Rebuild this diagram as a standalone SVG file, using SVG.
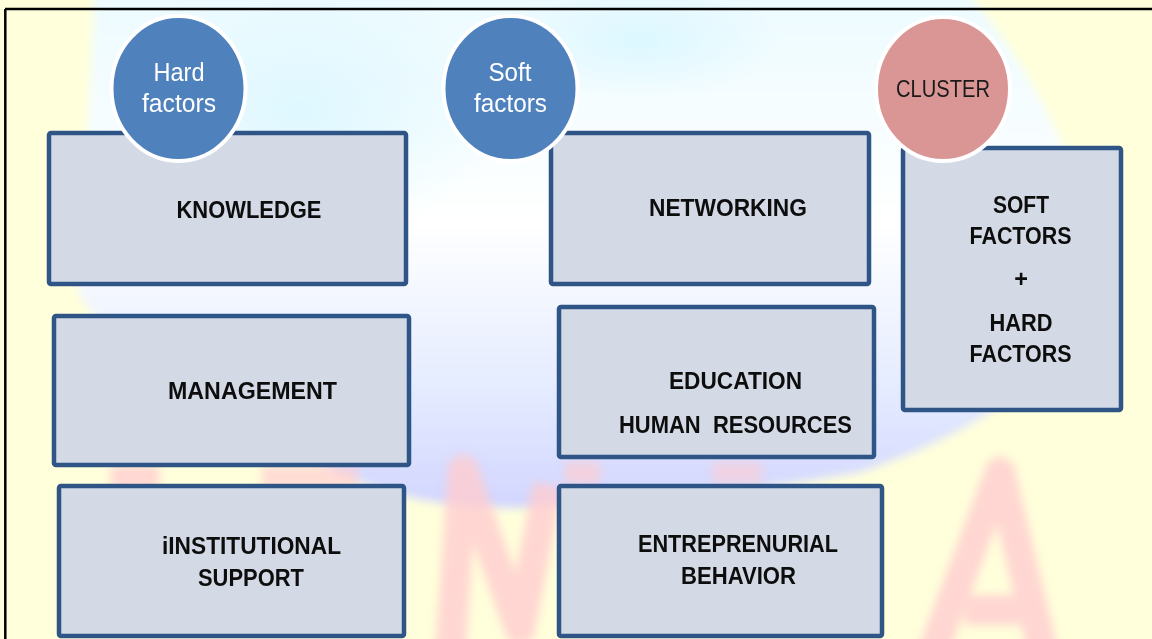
<svg xmlns="http://www.w3.org/2000/svg" width="1152" height="639" viewBox="0 0 1152 639">
  <defs>
    <style>
      .box { fill: #D3DAE6; stroke: #2F5486; stroke-width: 4.5; }
      .hdr-blue { fill: #4F81BD; stroke: #FFFFFF; stroke-width: 4; }
      .hdr-pink { fill: #D99694; stroke: #FFFFFF; stroke-width: 4; }
      .lbl { font-family: "Liberation Sans", Arial, sans-serif; font-weight: bold; font-size: 23.5px; fill: #0D0D0D; text-anchor: middle; }
      .hdr { font-family: "Liberation Sans", Arial, sans-serif; font-size: 25px; fill: #FFFFFF; text-anchor: middle; }
      .hdr-dark { font-family: "Liberation Sans", Arial, sans-serif; font-size: 24px; fill: #1A1A1A; text-anchor: middle; }
      .wm { fill: none; stroke: #FFCCD0; stroke-width: 30; stroke-linejoin: round; opacity: 0.8; }
    </style>
    <linearGradient id="globeGrad" x1="0" y1="0" x2="0" y2="1">
      <stop offset="0" stop-color="#ECFBFF"/>
      <stop offset="0.45" stop-color="#FFFFFF"/>
      <stop offset="0.75" stop-color="#E6EDFF"/>
      <stop offset="1" stop-color="#D2D6FF"/>
    </linearGradient>
    <radialGradient id="cyanPatch" cx="0.5" cy="0.5" r="0.5">
      <stop offset="0" stop-color="#D6F6FF" stop-opacity="0.75"/>
      <stop offset="1" stop-color="#D6F6FF" stop-opacity="0"/>
    </radialGradient>
    <filter id="soft" x="-10%" y="-10%" width="120%" height="120%">
      <feGaussianBlur stdDeviation="5"/>
    </filter>
  </defs>

  <!-- background -->
  <g id="background">
    <rect x="0" y="0" width="1152" height="639" fill="#FFFFDB"/>
    <path filter="url(#soft)" fill="url(#globeGrad)" d="M 95,-10 L 965,-10 C 1060,100 1100,220 1092,305 C 1060,380 960,440 860,472 C 760,492 620,500 520,508 C 430,508 380,492 340,474 C 250,430 95,340 78,290 Z"/>
    <ellipse cx="300" cy="110" rx="210" ry="130" fill="url(#cyanPatch)"/>
    <ellipse cx="640" cy="40" rx="140" ry="60" fill="url(#cyanPatch)"/>
    <g filter="url(#soft)">
      <path class="wm" d="M 450,660 L 463,470 L 520,630 L 548,485"/>
      <path class="wm" d="M 930,660 L 1000,472 L 1045,660 M 965,610 L 1030,610"/>
      <rect x="111" y="466" width="48" height="22" fill="#FFCCD0" opacity="0.8"/>
      <rect x="262" y="466" width="96" height="22" fill="#FFCCD0" opacity="0.7"/>
      <rect x="565" y="462" width="35" height="22" fill="#FFCCD0" opacity="0.7"/>
      <rect x="712" y="462" width="50" height="22" fill="#FFCCD0" opacity="0.6"/>
    </g>
    <line x1="5" y1="9" x2="1152" y2="9" stroke="#000000" stroke-width="2.5"/>
    <line x1="5.3" y1="9" x2="5.3" y2="639" stroke="#000000" stroke-width="2.5"/>
  </g>

  <g id="connectors"/>

  <g id="knowledge">
    <rect class="box" x="49" y="133" width="357" height="151" rx="2"/>
    <text class="lbl" x="249" y="218" textLength="145" lengthAdjust="spacingAndGlyphs">KNOWLEDGE</text>
  </g>
  <g id="management">
    <rect class="box" x="54" y="316" width="355" height="149" rx="2"/>
    <text class="lbl" x="252.5" y="399" textLength="169" lengthAdjust="spacingAndGlyphs">MANAGEMENT</text>
  </g>
  <g id="institutional-support">
    <rect class="box" x="59" y="486" width="345" height="150" rx="2"/>
    <text class="lbl" x="251.5" y="554" textLength="179" lengthAdjust="spacingAndGlyphs">iINSTITUTIONAL</text>
    <text class="lbl" x="251" y="586" textLength="106" lengthAdjust="spacingAndGlyphs">SUPPORT</text>
  </g>
  <g id="networking">
    <rect class="box" x="551" y="133" width="318" height="151" rx="2"/>
    <text class="lbl" x="728" y="216" textLength="158" lengthAdjust="spacingAndGlyphs">NETWORKING</text>
  </g>
  <g id="education">
    <rect class="box" x="559" y="307" width="315" height="150" rx="2"/>
    <text class="lbl" x="735.5" y="389" textLength="133" lengthAdjust="spacingAndGlyphs">EDUCATION</text>
    <text class="lbl" x="735.5" y="433" textLength="233" lengthAdjust="spacingAndGlyphs" xml:space="preserve">HUMAN  RESOURCES</text>
  </g>
  <g id="entrepreneurial">
    <rect class="box" x="559" y="486" width="323" height="150" rx="2"/>
    <text class="lbl" x="738" y="552" textLength="200" lengthAdjust="spacingAndGlyphs">ENTREPRENURIAL</text>
    <text class="lbl" x="738.5" y="584" textLength="115" lengthAdjust="spacingAndGlyphs">BEHAVIOR</text>
  </g>
  <g id="cluster-box">
    <rect class="box" x="903" y="148" width="218" height="262" rx="2"/>
    <text class="lbl" x="1021" y="213" textLength="56" lengthAdjust="spacingAndGlyphs">SOFT</text>
    <text class="lbl" x="1020.5" y="244" textLength="102" lengthAdjust="spacingAndGlyphs">FACTORS</text>
    <text class="lbl" x="1021" y="287">+</text>
    <text class="lbl" x="1021" y="331" textLength="63" lengthAdjust="spacingAndGlyphs">HARD</text>
    <text class="lbl" x="1020.5" y="362" textLength="102" lengthAdjust="spacingAndGlyphs">FACTORS</text>
  </g>

  <g id="hard-factors">
    <ellipse class="hdr-blue" cx="178.5" cy="88.5" rx="67" ry="72.5"/>
    <text class="hdr" x="179" y="81" textLength="51" lengthAdjust="spacingAndGlyphs">Hard</text>
    <text class="hdr" x="179" y="112" textLength="74" lengthAdjust="spacingAndGlyphs">factors</text>
  </g>
  <g id="soft-factors">
    <ellipse class="hdr-blue" cx="510.5" cy="88.5" rx="67" ry="72.5"/>
    <text class="hdr" x="510" y="81" textLength="43" lengthAdjust="spacingAndGlyphs">Soft</text>
    <text class="hdr" x="510.5" y="112" textLength="73" lengthAdjust="spacingAndGlyphs">factors</text>
  </g>
  <g id="cluster">
    <ellipse class="hdr-pink" cx="943" cy="89" rx="67" ry="72"/>
    <text class="hdr-dark" x="943" y="97" textLength="94" lengthAdjust="spacingAndGlyphs">CLUSTER</text>
  </g>
</svg>
